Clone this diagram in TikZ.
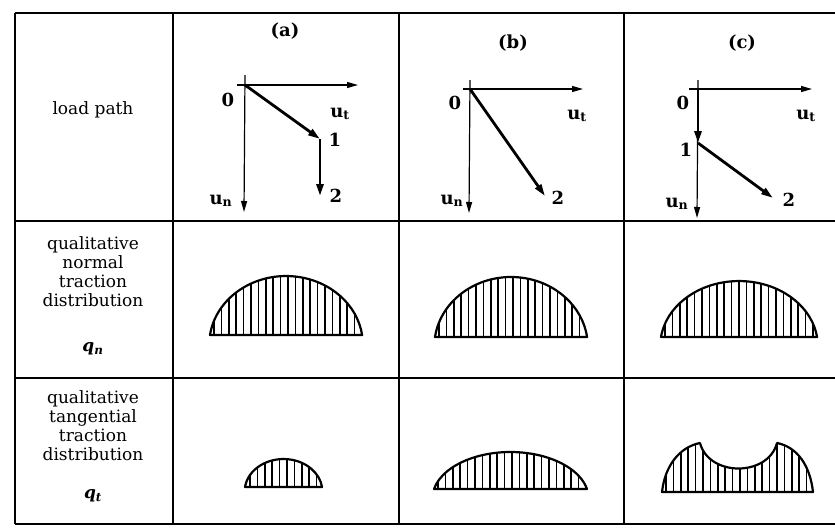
\documentclass[tikz,border=0pt]{standalone}
\usepackage{fontspec}
\setmainfont{DejaVu Serif}
\usetikzlibrary{arrows.meta}
\tikzset{
    every picture/.style={x=1pt,y=-1pt},
    % table and labels
    gridline/.style={line width=2.4pt},
    lbl/.style={font=\fontsize{18}{20}\selectfont\bfseries,inner sep=1pt},
    rowtext/.style={align=center,font=\fontsize{17}{19}\selectfont,inner sep=1pt},
    % load path arrows
    axis/.style={line width=1.2pt,-{Triangle[length=11pt,width=6pt]}},
    loadarrow/.style={line width=2.8pt,-{Triangle[length=12pt,width=7pt]}},
    % traction distributions
    outline/.style={line width=2.2pt,line join=round},
    hatch/.style={line width=1.7pt}
}
% hatched distribution: #1 closed path, #2 first hatch line
\newcommand{\hatchfill}[2]{%
    \begin{scope}
        \clip #1;
        \foreach \k in {0,...,22}
            \draw[hatch] ({#2+\k*7.4},200) -- ({#2+\k*7.4},528);
    \end{scope}
    \draw[outline] #1;
}

\begin{document}
\begin{tikzpicture}
    \useasboundingbox (0,0) rectangle (835,528);

    % Table grid
    \draw[gridline] (15,13) -- (835,13);
    \draw[gridline] (15,221) -- (835,221);
    \draw[gridline] (15,378) -- (835,378);
    \draw[gridline] (15,524) -- (835,524);
    \draw[gridline] (15,13) -- (15,524);
    \draw[gridline] (173,13) -- (173,524);
    \draw[gridline] (399,13) -- (399,524);
    \draw[gridline] (624,13) -- (624,524);

    % Row labels
    \node[rowtext] (lpath) at (93,110) {load path};
    \node[rowtext] (qnText) at (93,272) {qualitative\\normal\\traction\\distribution};
    \node[rowtext] (qnSym) at (93,349) {\textbf{\textit{q}\textsubscript{\textit{n}}}};
    \node[rowtext] (qtText) at (93,426) {qualitative\\tangential\\traction\\distribution};
    \node[rowtext] (qtSym) at (93,496) {\textbf{\textit{q}\textsubscript{\textit{t}}}};

    % Column headers
    \node[lbl] (hdA) at (285,31) {(a)};
    \node[lbl] (hdB) at (513,43) {(b)};
    \node[lbl] (hdC) at (742,43) {(c)};

    % Load path (a)
    \coordinate (oA) at (245,85);
    \coordinate (tA0) at (237,85);
    \coordinate (tA) at (358,85);
    \coordinate (nA0) at (245,75);
    \coordinate (nA) at (244,212);
    \coordinate (pA1) at (320,139);
    \coordinate (pA2) at (320,196);
    \draw[axis] (tA0) -- (tA);
    \draw[axis] (nA0) -- (nA);
    \draw[loadarrow] (oA) -- (pA1);
    \draw[loadarrow] (pA1) -- (pA2);
    \node[lbl] (zeroA) at (228,100) {0};
    \node[lbl] (oneA) at (335,140) {1};
    \node[lbl] (twoA) at (336,196) {2};
    \node[lbl] (utA) at (340,114) {u\textsubscript{t}};
    \node[lbl] (unA) at (221,201) {u\textsubscript{n}};

    % Load path (b)
    \coordinate (oB) at (470,89);
    \coordinate (tB0) at (463,89);
    \coordinate (tB) at (583,89);
    \coordinate (nB0) at (470,80);
    \coordinate (nB) at (469,213);
    \coordinate (pB2) at (545,196);
    \draw[axis] (tB0) -- (tB);
    \draw[axis] (nB0) -- (nB);
    \draw[loadarrow] (oB) -- (pB2);
    \node[lbl] (zeroB) at (455,103) {0};
    \node[lbl] (twoB) at (558,198) {2};
    \node[lbl] (utB) at (577,116) {u\textsubscript{t}};
    \node[lbl] (unB) at (452,201) {u\textsubscript{n}};

    % Load path (c)
    \coordinate (oC) at (698,89);
    \coordinate (tC0) at (689,89);
    \coordinate (tC) at (812,89);
    \coordinate (nC0) at (698,80);
    \coordinate (nC) at (697,218);
    \coordinate (pC1) at (698,143);
    \coordinate (pC2) at (773,198);
    \draw[axis] (tC0) -- (tC);
    \draw[axis] (nC0) -- (nC);
    \draw[loadarrow] (oC) -- (pC1);
    \draw[loadarrow] (pC1) -- (pC2);
    \node[lbl] (zeroC) at (683,103) {0};
    \node[lbl] (oneC) at (686,150) {1};
    \node[lbl] (twoC) at (789,200) {2};
    \node[lbl] (utC) at (806,116) {u\textsubscript{t}};
    \node[lbl] (unC) at (677,204) {u\textsubscript{n}};

    % Normal traction q_n
    \hatchfill{(210,335) arc[start angle=188,end angle=352,x radius=76.8,y radius=68.5] -- cycle}{214}
    \hatchfill{(435,337) arc[start angle=188,end angle=352,x radius=76.8,y radius=69.7] -- cycle}{439}
    \hatchfill{(661,337) arc[start angle=188,end angle=352,x radius=78.8,y radius=65.0] -- cycle}{665}

    % Tangential traction q_t
    \hatchfill{(245,487) arc[start angle=188,end angle=352,x radius=38.9,y radius=32.5] -- cycle}{250}
    \hatchfill{(434,489) arc[start angle=192,end angle=348,x radius=78.2,y radius=46.7] -- cycle}{438}
    \hatchfill{(662,492) .. controls (665,465) and (680,447) .. (700,443)
        .. controls (709,477) and (768,477) .. (777,443)
        .. controls (797,447) and (810,465) .. (813,492) -- cycle}{666}
\end{tikzpicture}
\end{document}
